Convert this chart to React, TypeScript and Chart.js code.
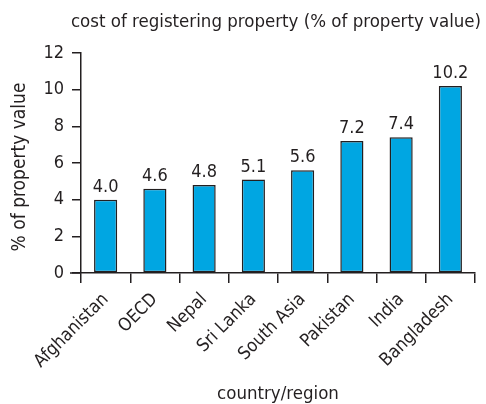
import React, { useEffect, useRef } from "react";
import { Chart, registerables } from "chart.js";

Chart.register(...registerables);

const categories = ["Afghanistan", "OECD", "Nepal", "Sri Lanka", "South Asia", "Pakistan", "India", "Bangladesh"];
const values = [4.0, 4.6, 4.8, 5.1, 5.6, 7.2, 7.4, 10.2];
const yTicks = [0, 2, 4, 6, 8, 10, 12];
const titleText = "cost of registering property (% of property value)";
const yTitle = "% of property value";
const xTitle = "country/region";

const FONT = "'DejaVu Sans Condensed', sans-serif";
const INK = "#231f20";

const valueLabels = {
  id: "valueLabels",
  afterDatasetsDraw(chart: any) {
    const ctx = chart.ctx;
    const meta = chart.getDatasetMeta(0);
    ctx.save();
    ctx.font = `normal 18px ${FONT}`;
    ctx.fillStyle = INK;
    ctx.textAlign = "center";
    ctx.textBaseline = "alphabetic";
    meta.data.forEach((bar: any, i: number) => {
      ctx.fillText(values[i].toFixed(1), bar.x, bar.y - 8);
    });
    ctx.restore();
  },
};

const extras = {
  id: "extras",
  afterDraw(chart: any) {
    const { ctx, chartArea } = chart;
    ctx.save();
    // x axis line extends a little left of the y axis
    ctx.strokeStyle = INK;
    ctx.lineWidth = 1.5;
    ctx.beginPath();
    ctx.moveTo(chartArea.left - 11, chartArea.bottom);
    ctx.lineTo(chartArea.left, chartArea.bottom);
    ctx.stroke();

    ctx.fillStyle = INK;
    ctx.textAlign = "center";
    ctx.textBaseline = "alphabetic";
    // chart title
    ctx.font = `normal 18.5px ${FONT}`;
    ctx.fillText(titleText, 276, 26.5);
    // x axis title
    ctx.font = `normal 18.5px ${FONT}`;
    ctx.fillText(xTitle, 278, 399);
    // y axis title
    ctx.font = `normal 19px ${FONT}`;
    ctx.translate(25, 167);
    ctx.rotate(-Math.PI / 2);
    ctx.fillText(yTitle, 0, 0);
    ctx.restore();
  },
};

export default function App() {
  const ref = useRef<HTMLCanvasElement>(null);
  useEffect(() => {
    document.body.style.margin = "0";
    const chart = new Chart(ref.current!, {
      type: "bar",
      data: {
        labels: categories,
        datasets: [
          {
            data: values,
            backgroundColor: "#00a6e2",
            borderColor: INK,
            borderWidth: 1.5,
            borderSkipped: false,
            barPercentage: 0.47,
            categoryPercentage: 1,
          },
        ],
      },
      options: {
        animation: false,
        responsive: false,
        devicePixelRatio: 1,
        layout: { padding: { left: 0, right: 11, top: 53, bottom: 0 } },
        plugins: {
          legend: { display: false },
          tooltip: { enabled: false },
          title: { display: false },
        },
        scales: {
          x: {
            grid: { display: true, drawOnChartArea: false, drawTicks: true, tickLength: 10, color: INK, lineWidth: 1.5, offset: true },
            border: { display: true, color: INK, width: 1.5 },
            ticks: {
              color: INK,
              font: { family: FONT, size: 18, weight: "normal" },
              minRotation: 45,
              maxRotation: 45,
              padding: 6,
              autoSkip: false,
            },
            afterFit(scale: any) {
              scale.height = 131;
              scale.paddingLeft = 0;
              scale.paddingRight = 0;
            },
          },
          y: {
            min: 0,
            max: 12,
            afterBuildTicks(scale: any) {
              scale.ticks = yTicks.map((v) => ({ value: v }));
            },
            grid: { display: true, drawOnChartArea: false, drawTicks: true, tickLength: 9, color: INK, lineWidth: 1.5 },
            border: { display: true, color: INK, width: 1.5 },
            ticks: {
              color: INK,
              font: { family: FONT, size: 18, weight: "normal" },
              padding: 8,
            },
            afterFit(scale: any) {
              scale.width = 81;
            },
          },
        },
      },
      plugins: [valueLabels, extras],
    });
    return () => chart.destroy();
  }, []);
  return <canvas ref={ref} width={486} height={404} style={{ display: "block" }} />;
}
